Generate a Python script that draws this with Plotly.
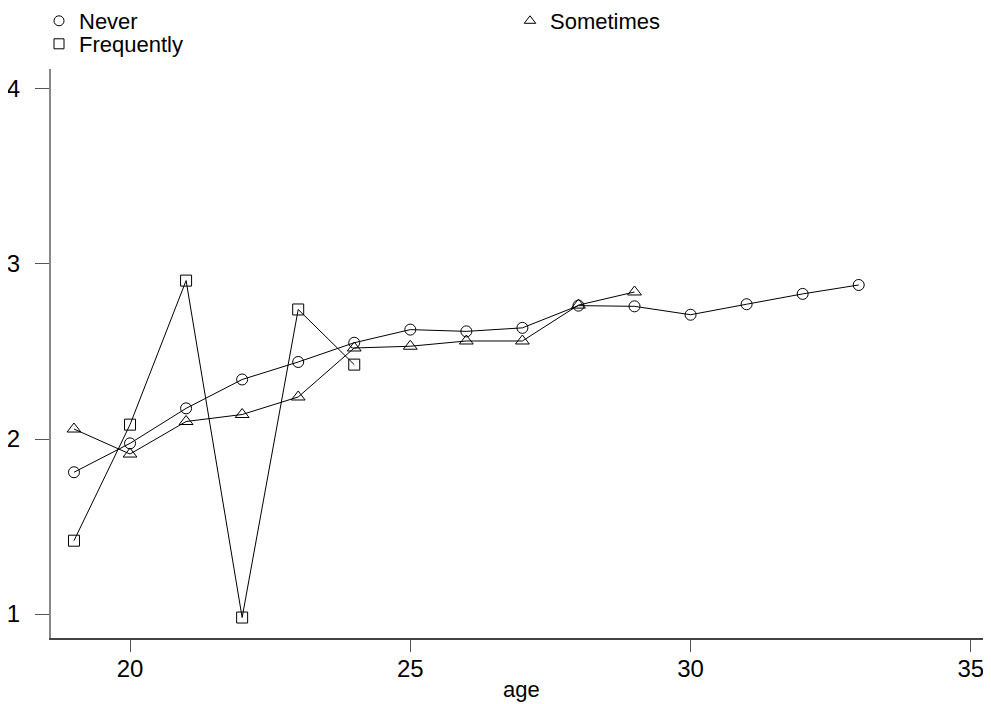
import plotly.graph_objects as go

age_never = [19, 20, 21, 22, 23, 24, 25, 26, 27, 28, 29, 30, 31, 32, 33]
never = [1.81, 1.975, 2.175, 2.34, 2.44, 2.55, 2.625, 2.615, 2.635, 2.762, 2.758, 2.71, 2.77, 2.829, 2.88]

age_sometimes = [19, 20, 21, 22, 23, 24, 25, 26, 27, 28, 29]
sometimes = [2.057, 1.914, 2.10, 2.14, 2.24, 2.52, 2.53, 2.56, 2.56, 2.765, 2.84]

age_frequently = [19, 20, 21, 22, 23, 24]
frequently = [1.419, 2.082, 2.905, 0.98, 2.74, 2.425]

x_ticks = [20, 25, 30, 35]
y_ticks = [1, 2, 3, 4]

FONT = "Liberation Sans, Arial, sans-serif"
OFF = 8  # page body margin offset

series = [
    ("Never", age_never, never, "circle-open", 11, "legend"),
    ("Sometimes", age_sometimes, sometimes, "triangle-up-open", 12, "legend2"),
    ("Frequently", age_frequently, frequently, "square-open", 11, "legend3"),
]

fig = go.Figure()
for name, xs, ys, sym, sz, lg in series:
    fig.add_trace(go.Scatter(
        x=xs, y=ys, mode="lines+markers", name=name, showlegend=False,
        line=dict(color="black", width=1),
        marker=dict(symbol=sym, size=sz, color="black", line=dict(width=1, color="black")),
    ))
for name, xs, ys, sym, sz, lg in series:
    fig.add_trace(go.Scatter(
        x=[None], y=[None], mode="markers", name=name, showlegend=True, legend=lg,
        marker=dict(symbol=sym, size=10, color="black", line=dict(width=1, color="black")),
    ))

W, H = 991, 704

def leg(x_px, y_px):
    return dict(
        xref="container", yref="container",
        x=(x_px - OFF) / W, y=1 - (y_px - OFF) / H, xanchor="left", yanchor="middle",
        itemwidth=30, font=dict(size=22, family=FONT, color="black"),
        bgcolor="rgba(0,0,0,0)", borderwidth=0,
    )

fig.update_layout(
    width=W, height=H,
    margin=dict(l=51 - OFF, r=OFF, t=69 - OFF, b=66 + OFF, autoexpand=False),
    paper_bgcolor="white", plot_bgcolor="white",
    font=dict(family=FONT, size=24, color="black"),
    legend=leg(39, 21),
    legend2=leg(510, 21),
    legend3=leg(39, 44),
    xaxis=dict(
        range=[18.59, 35.36], tickvals=x_ticks, ticktext=[str(v) for v in x_ticks],
        showgrid=False, zeroline=False, showline=True, linecolor="#444444", linewidth=2,
        ticks="outside", ticklen=12, tickcolor="#555555", tickwidth=1,
        tickfont=dict(size=24), automargin=False,
    ),
    yaxis=dict(
        range=[0.863, 4.114], tickvals=y_ticks, ticktext=[str(v) for v in y_ticks],
        showgrid=False, zeroline=False, showline=True, linecolor="#888888", linewidth=2,
        ticks="outside", ticklen=14, tickcolor="#555555", tickwidth=1,
        ticklabelstandoff=10,
        tickfont=dict(size=24), automargin=False,
    ),
    annotations=[dict(
        text="age", xref="paper", yref="paper", x=0.5, y=-(689 - 638) / 569,
        xanchor="center", yanchor="middle", showarrow=False,
        font=dict(size=22, family=FONT, color="black"),
    )],
)
try:
    fig.update_layout(xaxis_ticklabelstandoff=-4)
except ValueError:
    pass

fig.write_html("out.html")
